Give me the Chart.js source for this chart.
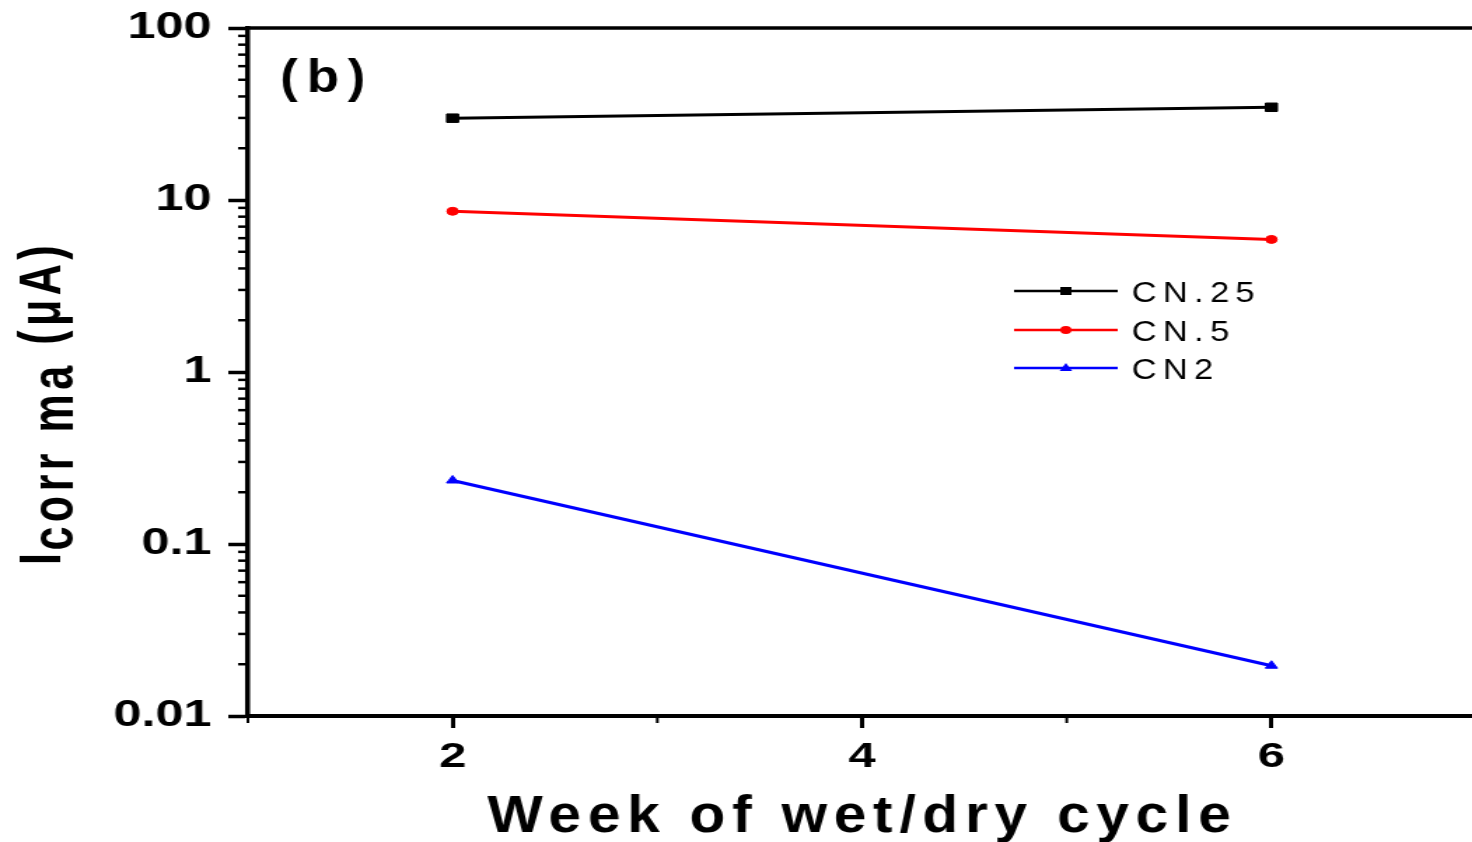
<!DOCTYPE html>
<html>
<head>
<meta charset="utf-8">
<script src="https://cdn.jsdelivr.net/npm/chart.js@4.4.1/dist/chart.umd.min.js"></script>
<style>
  html, body { margin: 0; padding: 0; background: #fff; overflow: hidden; }
  /* the figure is drawn narrow and stretched sideways */
  #wrap { width: 1051px; height: 842px; transform: scaleX(1.4006); transform-origin: 0 0; }
</style>
</head>
<body>
<div id="wrap"><canvas id="icorrChart"></canvas></div>
<script>
// weeks of wet/dry cycling
const weeks = [2, 6];
// corrosion current per mix (log axis)
const cn025 = [29.9, 34.6];
const cn05 = [8.6, 5.9];
const cn2 = [0.234, 0.0196];
const seriesNames = ['CN.25', 'CN.5', 'CN2'];
const yTickValues = [0.01, 0.1, 1, 10, 100];
const yTickLabels = ['0.01', '0.1', '1', '10', '100'];
const xTickValues = [2, 4, 6];
const xMinorValues = [1, 3, 5];

const FONT = '"Liberation Sans", Arial, sans-serif';
const SQUEEZE = 0.82;

function toPoints(vals) {
    return weeks.map((w, i) => ({ x: w, y: vals[i] }));
}

// no extra room for half-labels at the axis ends
function noEdgePadding(s) {
    s.paddingTop = 0;
    s.paddingBottom = 0;
    s.paddingLeft = 0;
    s.paddingRight = 0;
}

// condensed, letter-spaced text
function spacedText(ctx, text, x, y, font, spacing) {
    ctx.save();
    ctx.translate(x, y);
    ctx.scale(SQUEEZE, 1);
    ctx.font = font;
    ctx.letterSpacing = spacing + 'px';
    ctx.textAlign = 'left';
    ctx.fillText(text, 0, 0);
    ctx.restore();
}

// minor ticks, frame line, titles and legend
const decorPlugin = {
    id: 'decor',
    afterDraw(chart) {
        const ctx = chart.ctx;
        const area = chart.chartArea;
        const xs = chart.scales.x;
        const ys = chart.scales.y;
        ctx.save();
        ctx.strokeStyle = '#000';

        // top frame
        ctx.lineWidth = 3.5;
        ctx.beginPath();
        ctx.moveTo(area.left, area.top);
        ctx.lineTo(area.right, area.top);
        ctx.stroke();

        // minor y ticks
        ctx.lineWidth = 2.5;
        for (let d = -2; d < 2; d++) {
            for (let m = 2; m <= 9; m++) {
                const py = ys.getPixelForValue(m * Math.pow(10, d));
                ctx.beginPath();
                ctx.moveTo(area.left - 7, py);
                ctx.lineTo(area.left, py);
                ctx.stroke();
            }
        }
        // minor x ticks
        ctx.lineWidth = 2;
        xMinorValues.forEach(v => {
            const px = xs.getPixelForValue(v);
            ctx.beginPath();
            ctx.moveTo(px, area.bottom);
            ctx.lineTo(px, area.bottom + 7);
            ctx.stroke();
        });

        ctx.fillStyle = '#000';
        ctx.textBaseline = 'alphabetic';

        // panel tag
        spacedText(ctx, '(b)', 200, 92, 'bold 46px ' + FONT, 7.7);

        // x title
        spacedText(ctx, 'Week of wet/dry cycle', 348, 832, 'bold 51px ' + FONT, 5.9);

        // y title, rotated
        ctx.save();
        ctx.translate(43, 565);
        ctx.rotate(-Math.PI / 2);
        ctx.textAlign = 'left';
        ctx.letterSpacing = '4.5px';
        ctx.font = 'bold 43px ' + FONT;
        ctx.fillText('I', 0, 0);
        let off = ctx.measureText('I').width - 2;
        ctx.fillText('corr ma', off, 8.5);
        off += ctx.measureText('corr ma ').width;
        ctx.fillText('(\u03bcA)', off, 0);
        ctx.restore();

        // legend
        const lx0 = 724, lx1 = 798, rowY = [291, 330, 368];
        chart.data.datasets.forEach((ds, i) => {
            const y = rowY[i];
            ctx.strokeStyle = ds.borderColor;
            ctx.lineWidth = 2.5;
            ctx.beginPath();
            ctx.moveTo(lx0, y);
            ctx.lineTo(lx1, y);
            ctx.stroke();
            ctx.fillStyle = ds.borderColor;
            const cx = (lx0 + lx1) / 2;
            ctx.beginPath();
            if (ds.pointStyle === 'rect') {
                ctx.rect(cx - 4, y - 4, 8, 8);
            } else if (ds.pointStyle === 'circle') {
                ctx.arc(cx, y, 4, 0, Math.PI * 2);
            } else {
                ctx.moveTo(cx, y - 5);
                ctx.lineTo(cx + 4.5, y + 3);
                ctx.lineTo(cx - 4.5, y + 3);
                ctx.closePath();
            }
            ctx.fill();
            ctx.fillStyle = '#000';
            spacedText(ctx, ds.label, 808, y + 11, '30px ' + FONT, 5.5);
        });
        ctx.restore();
    }
};

new Chart(document.getElementById('icorrChart'), {
    type: 'line',
    data: {
        datasets: [{
            label: seriesNames[0],
            data: toPoints(cn025),
            borderColor: '#000000',
            backgroundColor: '#000000',
            pointStyle: 'rect',
            pointRadius: 6
        }, {
            label: seriesNames[1],
            data: toPoints(cn05),
            borderColor: '#ff0000',
            backgroundColor: '#ff0000',
            pointStyle: 'circle',
            pointRadius: 4
        }, {
            label: seriesNames[2],
            data: toPoints(cn2),
            borderColor: '#0000ff',
            backgroundColor: '#0000ff',
            pointStyle: 'triangle',
            pointRadius: 5
        }]
    },
    options: {
        responsive: true,
        maintainAspectRatio: false,
        animation: false,
        elements: {
            line: { borderWidth: 3, tension: 0 },
            point: { borderWidth: 1 }
        },
        layout: { autoPadding: false, padding: { top: 28, right: 0, left: 0, bottom: 0 } },
        plugins: {
            legend: { display: false },
            tooltip: { enabled: false }
        },
        scales: {
            x: {
                type: 'linear',
                min: 1,
                max: 6.98,
                afterBuildTicks: s => { s.ticks = xTickValues.map(v => ({ value: v })); },
                afterFit: s => { s.height = 842 - 716; noEdgePadding(s); },
                grid: {
                    display: true,
                    drawOnChartArea: false,
                    drawTicks: true,
                    tickLength: 12,
                    tickWidth: 3,
                    tickColor: '#000'
                },
                border: { display: true, color: '#000', width: 4 },
                ticks: {
                    color: '#000',
                    padding: 8,
                    font: { family: FONT, size: 35, weight: 'bold' },
                    callback: v => String(v),
                    maxRotation: 0
                }
            },
            y: {
                type: 'logarithmic',
                min: 0.01,
                max: 100,
                afterBuildTicks: s => { s.ticks = yTickValues.map(v => ({ value: v })); },
                afterFit: s => { s.width = 177; noEdgePadding(s); },
                grid: {
                    display: true,
                    drawOnChartArea: false,
                    drawTicks: true,
                    tickLength: 14,
                    tickWidth: 3.5,
                    tickColor: '#000'
                },
                border: { display: true, color: '#000', width: 3.5 },
                ticks: {
                    color: '#000',
                    padding: 12,
                    font: { family: FONT, size: 36, weight: 'bold' },
                    callback: v => yTickLabels[yTickValues.indexOf(v)] || ''
                }
            }
        }
    },
    plugins: [decorPlugin]
});
</script>
</body>
</html>
